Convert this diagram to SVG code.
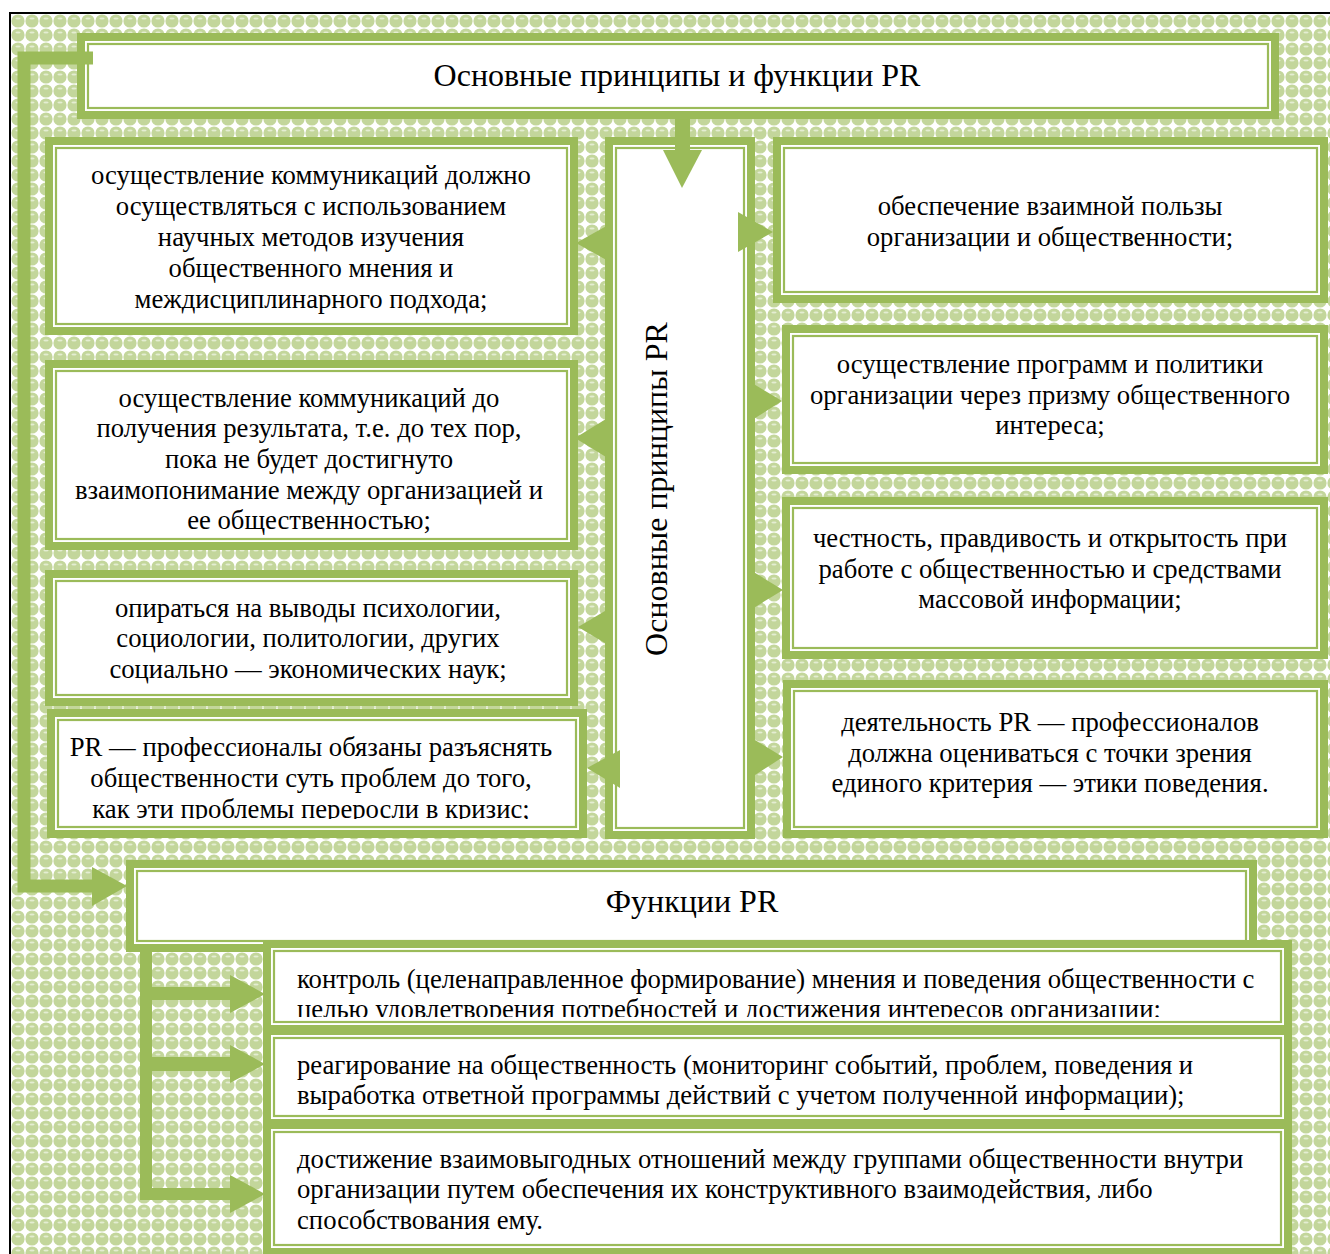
<svg xmlns="http://www.w3.org/2000/svg" width="1330" height="1254" viewBox="0 0 1330 1254">
<defs>
<pattern id="dots" x="11" y="14" width="14" height="14" patternUnits="userSpaceOnUse">
<rect width="14" height="14" fill="#ffffff"/>
<circle cx="7" cy="7" r="6.6" fill="#c3d69b"/>
<ellipse cx="7" cy="4.4" rx="2.6" ry="1" fill="#e4edd2"/>
</pattern>
<clipPath id="clipL4"><rect x="57" y="719" width="520" height="100"/></clipPath>
<clipPath id="clipF1"><rect x="273" y="950" width="1009" height="67"/></clipPath>
</defs>
<style>
.bo{fill:#ffffff;stroke:#9bbb59;stroke-width:8}
.bi{fill:none;stroke:#9bbb59;stroke-width:2.2}
.t{font-family:"Liberation Serif","Times New Roman",serif;font-size:26.7px;fill:#000000}
.c{text-anchor:middle}
.h{font-family:"Liberation Serif","Times New Roman",serif;font-size:32px;fill:#000000;text-anchor:middle}
.g{fill:#9bbb59}
.ln{fill:none;stroke:#9bbb59}
</style>
<rect x="11" y="14" width="1319" height="1240" fill="url(#dots)"/>
<path d="M10,1254 V13 H1330" fill="none" stroke="#000000" stroke-width="2"/>

<g id="title">
<rect class="bo" x="81" y="37" width="1194" height="78"/>
<rect class="bi" x="88" y="44" width="1180" height="64"/>
<text class="h" x="677" y="86">Основные принципы и функции PR</text>
</g>

<g id="L1">
<rect class="bo" x="49" y="141" width="525" height="190"/>
<rect class="bi" x="56" y="148" width="511" height="176"/>
<text class="t c" x="311"><tspan x="311" y="184">осуществление коммуникаций должно</tspan><tspan x="311" y="215">осуществляться с использованием</tspan><tspan x="311" y="246">научных методов изучения</tspan><tspan x="311" y="277">общественного мнения и</tspan><tspan x="311" y="308">междисциплинарного подхода;</tspan></text>
</g>

<g id="L2">
<rect class="bo" x="49" y="364" width="525" height="182"/>
<rect class="bi" x="56" y="371" width="511" height="168"/>
<text class="t c" x="309"><tspan x="309" y="407">осуществление коммуникаций до</tspan><tspan x="309" y="437">получения результата, т.е. до тех пор,</tspan><tspan x="309" y="468">пока не будет достигнуто</tspan><tspan x="309" y="499">взаимопонимание между организацией и</tspan><tspan x="309" y="529">ее общественностью;</tspan></text>
</g>

<g id="L3">
<rect class="bo" x="49" y="574" width="525" height="128"/>
<rect class="bi" x="56" y="581" width="511" height="114"/>
<text class="t c" x="308"><tspan x="308" y="617">опираться на выводы психологии,</tspan><tspan x="308" y="647">социологии, политологии, других</tspan><tspan x="308" y="678">социально — экономических наук;</tspan></text>
</g>

<g id="L4">
<rect class="bo" x="51" y="713" width="532" height="121"/>
<rect class="bi" x="58" y="720" width="518" height="107"/>
<text class="t c" x="311" clip-path="url(#clipL4)"><tspan x="311" y="756">PR — профессионалы обязаны разъяснять</tspan><tspan x="311" y="787">общественности суть проблем до того,</tspan><tspan x="311" y="818">как эти проблемы переросли в кризис;</tspan></text>
</g>

<g id="middle">
<rect class="bo" x="609" y="141" width="142" height="694"/>
<rect class="bi" x="616" y="148" width="128" height="680"/>
<text class="h" transform="translate(667,489) rotate(-90)">Основные принципы PR</text>
</g>

<g id="R1">
<rect class="bo" x="777" y="141" width="547" height="158"/>
<rect class="bi" x="784" y="148" width="533" height="144"/>
<text class="t c" x="1050"><tspan x="1050" y="215">обеспечение взаимной пользы</tspan><tspan x="1050" y="246">организации и общественности;</tspan></text>
</g>

<g id="R2">
<rect class="bo" x="786" y="329" width="538" height="141"/>
<rect class="bi" x="793" y="336" width="524" height="127"/>
<text class="t c" x="1050"><tspan x="1050" y="373">осуществление программ и политики</tspan><tspan x="1050" y="404">организации через призму общественного</tspan><tspan x="1050" y="434">интереса;</tspan></text>
</g>

<g id="R3">
<rect class="bo" x="786" y="501" width="538" height="154"/>
<rect class="bi" x="793" y="508" width="524" height="140"/>
<text class="t c" x="1050"><tspan x="1050" y="547">честность, правдивость и открытость при</tspan><tspan x="1050" y="578">работе с общественностью и средствами</tspan><tspan x="1050" y="608">массовой информации;</tspan></text>
</g>

<g id="R4">
<rect class="bo" x="787" y="684" width="537" height="150"/>
<rect class="bi" x="794" y="691" width="523" height="136"/>
<text class="t c" x="1050"><tspan x="1050" y="731">деятельность PR — профессионалов</tspan><tspan x="1050" y="762">должна оцениваться с точки зрения</tspan><tspan x="1050" y="792">единого критерия — этики поведения.</tspan></text>
</g>

<g id="functions">
<rect class="bo" x="130" y="864" width="1123" height="84"/>
<rect class="bi" x="137" y="871" width="1109" height="70"/>
<text class="h" x="692" y="912">Функции PR</text>
</g>

<g id="F1">
<rect class="bo" x="267" y="944" width="1021" height="85"/>
<rect class="bi" x="274" y="951" width="1007" height="71"/>
<text class="t" clip-path="url(#clipF1)"><tspan x="297" y="988">контроль (целенаправленное формирование) мнения и поведения общественности с</tspan><tspan x="297" y="1018">целью удовлетворения потребностей и достижения интересов организации;</tspan></text>
</g>

<g id="F2">
<rect class="bo" x="267" y="1031" width="1021" height="92"/>
<rect class="bi" x="274" y="1038" width="1007" height="78"/>
<text class="t"><tspan x="297" y="1074">реагирование на общественность (мониторинг событий, проблем, поведения и</tspan><tspan x="297" y="1104">выработка ответной программы действий с учетом полученной информации);</tspan></text>
</g>

<g id="F3">
<rect class="bo" x="267" y="1125" width="1021" height="127"/>
<rect class="bi" x="274" y="1132" width="1007" height="113"/>
<text class="t"><tspan x="297" y="1168">достижение взаимовыгодных отношений между группами общественности внутри</tspan><tspan x="297" y="1198">организации путем обеспечения их конструктивного взаимодействия, либо</tspan><tspan x="297" y="1229">способствования ему.</tspan></text>
</g>

<g id="connectors">
<path class="ln" d="M93,58 H24 V886 H95" stroke-width="13"/>
<polygon class="g" points="92,867 127,886 92,906"/>
<rect class="g" x="675" y="115" width="15" height="37"/>
<polygon class="g" points="663,150 702,150 682,188"/>
<polygon class="g" points="610,224 610,262 576,243"/>
<polygon class="g" points="606,419 606,457 575,438"/>
<polygon class="g" points="610,608 610,646 578,627"/>
<polygon class="g" points="620,750 620,788 587,768"/>
<polygon class="g" points="738,212 738,252 773,232"/>
<polygon class="g" points="752,383 752,420 782,401"/>
<polygon class="g" points="752,571 752,609 783,590"/>
<polygon class="g" points="755,740 755,775 783,757"/>
<rect class="g" x="140" y="948" width="12" height="252"/>
<rect class="g" x="140" y="987" width="92" height="13"/>
<polygon class="g" points="230,975 265,994 230,1013"/>
<rect class="g" x="140" y="1057" width="92" height="14"/>
<polygon class="g" points="230,1045 265,1064 230,1083"/>
<rect class="g" x="140" y="1188" width="92" height="12"/>
<polygon class="g" points="230,1175 265,1194 230,1213"/>
</g>
</svg>
